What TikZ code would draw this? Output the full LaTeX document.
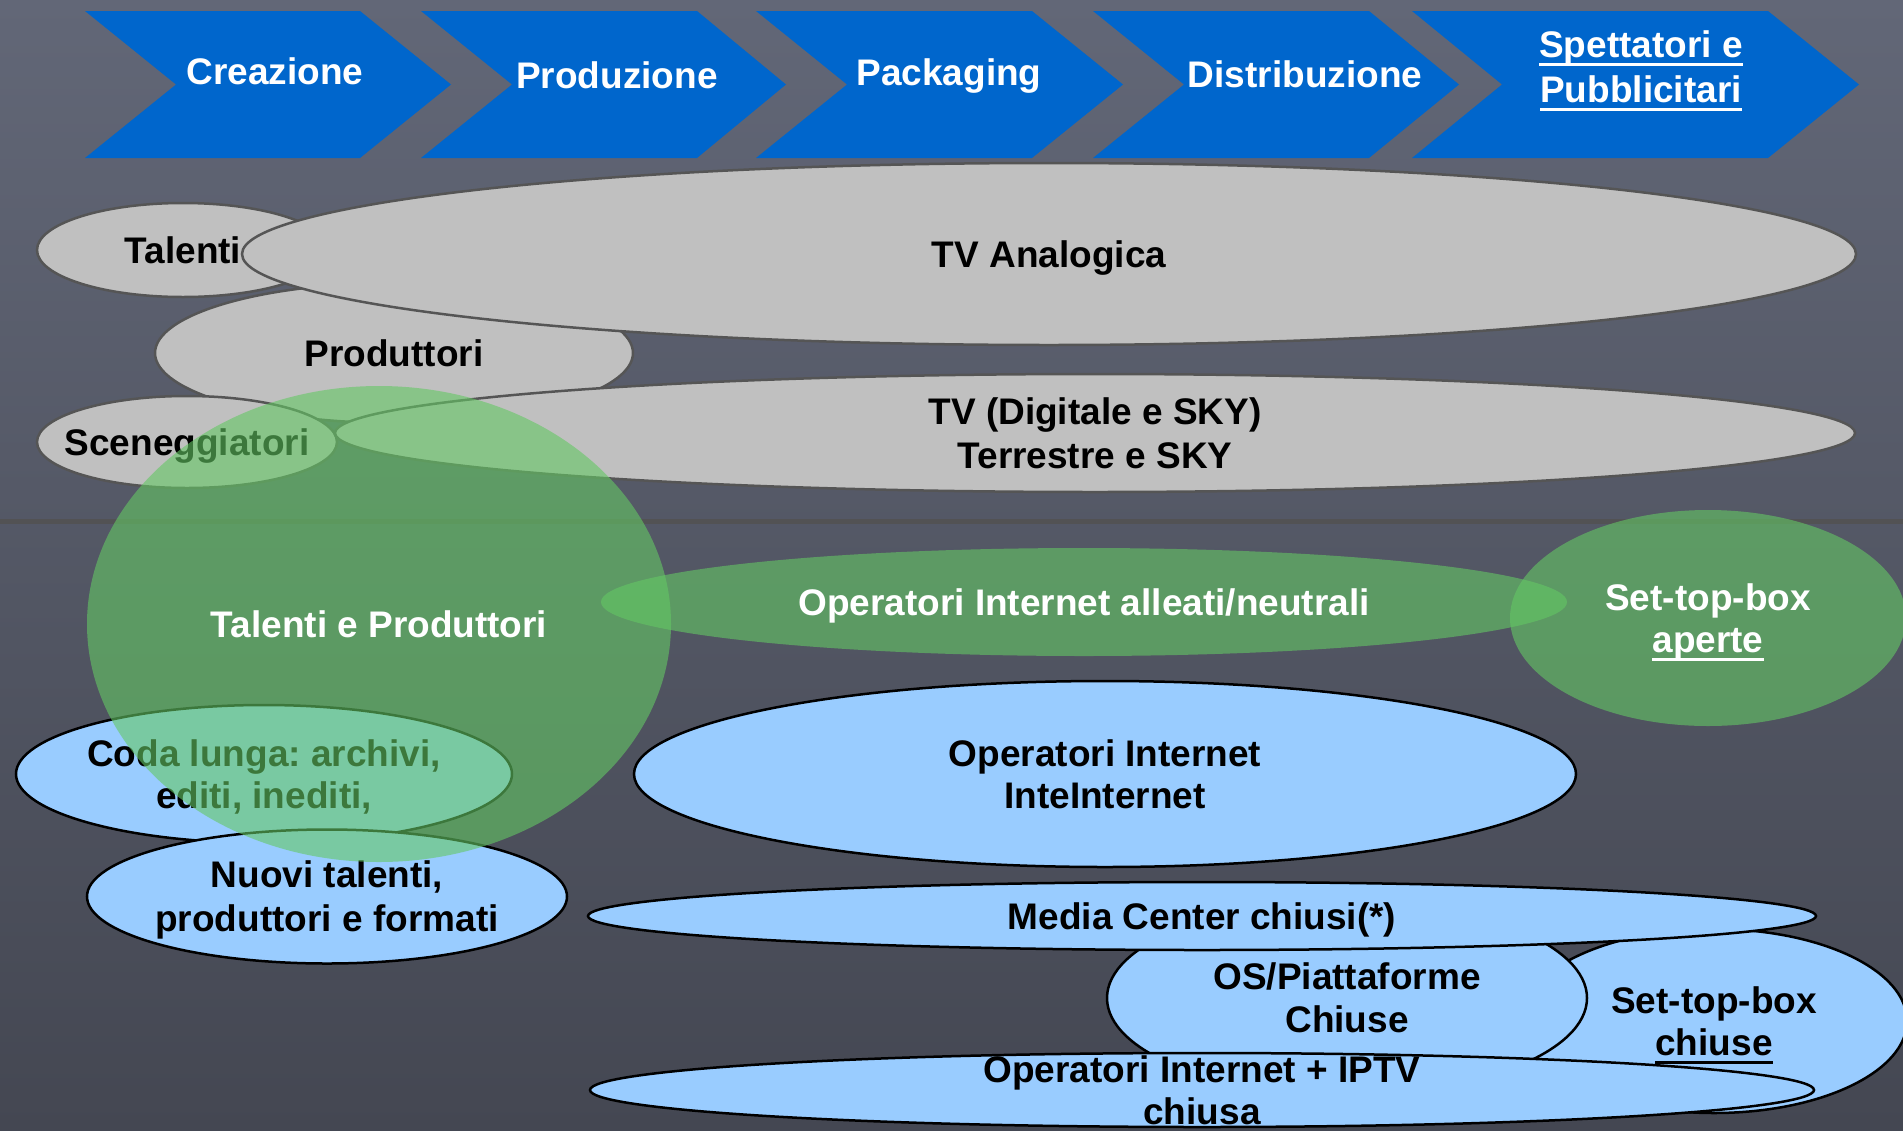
\documentclass[tikz,border=0pt]{standalone}
\usepackage{fontspec}
\setmainfont{Liberation Sans}
\frenchspacing
\usetikzlibrary{shapes.geometric}
\definecolor{bgtop}{RGB}{98,103,119}
\definecolor{bgmid}{RGB}{99,104,121}
\definecolor{bgbot}{RGB}{68,71,82}
\definecolor{chev}{RGB}{0,102,204}
\definecolor{grayfill}{RGB}{192,192,192}
\definecolor{grayline}{RGB}{85,85,85}
\definecolor{bluefill}{RGB}{153,204,255}
\definecolor{greenfill}{RGB}{100,200,100}
\definecolor{sepline}{RGB}{82,82,84}
\newcommand\ulw[1]{\setbox0=\hbox{#1}\rlap{\rule[-9pt]{\wd0}{3pt}}\box0}
\newcommand\nodp[1]{\raisebox{0pt}[\height][0pt]{#1}}
\tikzset{
  big/.style={font=\fontsize{37}{44}\selectfont\bfseries},
  one/.style={big, text height=26.5pt, text depth=0pt},
  multi/.style={big, align=center},
  lsk/.style={font=\fontsize{37}{#1}\selectfont\bfseries},
  chevtxt/.style={one, text=white, inner sep=0pt},
  ell/.style={ellipse, inner sep=-40pt},
  grayell/.style={ell, fill=grayfill, draw=grayline, line width=2.5pt},
  blueell/.style={ell, fill=bluefill, draw=black, line width=2.5pt},
  greenell/.style={ell, fill=greenfill, fill opacity=0.6, text opacity=1, text=white},
}
\begin{document}
\begin{tikzpicture}[x=1pt,y=-1pt]
\useasboundingbox (0,0) rectangle (1903,1130);
\clip (0,0) rectangle (1903,1130);
\shade[top color=bgtop, middle color=bgmid, bottom color=bgbot] (0,0) rectangle (1903,1130);
% separator line
\coordinate (sepL) at (0,521);
\coordinate (sepR) at (1903,521);
\draw[sepline, line width=5pt] (sepL) -- (sepR);
% chevrons
\fill[chev] (85,11) -- (360,11) -- (451,84.5) -- (360,158) -- (85,158) -- (176,84.5) -- cycle;
\fill[chev] (421,11) -- (697,11) -- (786,84.5) -- (697,158) -- (421,158) -- (512,84.5) -- cycle;
\fill[chev] (756,11) -- (1032,11) -- (1123,84.5) -- (1032,158) -- (756,158) -- (847,84.5) -- cycle;
\fill[chev] (1093,11) -- (1369,11) -- (1459,84.5) -- (1369,158) -- (1093,158) -- (1184,84.5) -- cycle;
\fill[chev] (1412,11) -- (1768,11) -- (1859,84.5) -- (1768,158) -- (1412,158) -- (1502,84.5) -- cycle;
\node[chevtxt] (creaz) at (275,71.5) {Creazione};
\node[chevtxt] (produz) at (617,75.5) {Produzione};
\node[chevtxt] (pack) at (949,72) {Packaging};
\node[chevtxt] (distr) at (1305,74.5) {Distribuzione};
\node[multi, lsk=45, text=white, inner sep=0pt] (spett) at (1641,66.5) {\ulw{Spettatori e}\\\nodp{\ulw{Pubblicitari}}};
% gray ellipses
\node[grayell, one, minimum width=478pt, minimum height=140pt] (prod) at (394,353) {Produttori};
\node[grayell, one, minimum width=292pt, minimum height=94pt] (tal) at (183,250) {Talenti};
\node[grayell, one, minimum width=1614pt, minimum height=182pt] (tvan) at (1049,254) {TV Analogica};
\node[grayell, one, minimum width=300pt, minimum height=92pt] (scen) at (187,442) {Sceneggiatori};
\node[grayell, multi, lsk=43.5, minimum width=1520pt, minimum height=118pt] (tvdig) at (1095,433) {TV (Digitale e SKY)\\\nodp{Terrestre e SKY}};
% blue ellipses
\node[blueell, multi, lsk=42, minimum width=496pt, minimum height=138pt] (coda) at (264,774) {Coda lunga: archivi,\\\nodp{editi, inediti,}};
\node[blueell, multi, lsk=44, minimum width=480pt, minimum height=134pt] (nuovi) at (327,896.5) {Nuovi talenti,\\\nodp{produttori e formati}};
\node[blueell, multi, lsk=42, minimum width=942pt, minimum height=186pt] (inte) at (1105,774) {Operatori Internet\\\nodp{InteInternet}};
\node[blueell, multi, lsk=42, minimum width=386pt, minimum height=184pt] (stbch) at (1714,1021) {Set-top-box\\\nodp{\ulw{chiuse}}};
\node[blueell, multi, lsk=43, minimum width=480pt, minimum height=194pt] (os) at (1347,998) {OS/Piattaforme\\\nodp{Chiuse}};
\node[blueell, one, minimum width=1228pt, minimum height=68pt] (media) at (1202,916) {Media Center chiusi(*)};
\node[blueell, multi, lsk=42, minimum width=1224pt, minimum height=74pt] (iptv) at (1202,1090) {Operatori Internet + IPTV\\\nodp{chiusa}};
% green ellipses
\node[greenell, one, minimum width=584pt, minimum height=476pt] (tp) at (379,624) {Talenti e Produttori};
\node[greenell, one, minimum width=966pt, minimum height=108pt] (alle) at (1084,602) {Operatori Internet alleati/neutrali};
\node[greenell, multi, lsk=42, minimum width=396pt, minimum height=216pt] (stbap) at (1708,618) {Set-top-box\\\nodp{\ulw{aperte}}};
\end{tikzpicture}
\end{document}
